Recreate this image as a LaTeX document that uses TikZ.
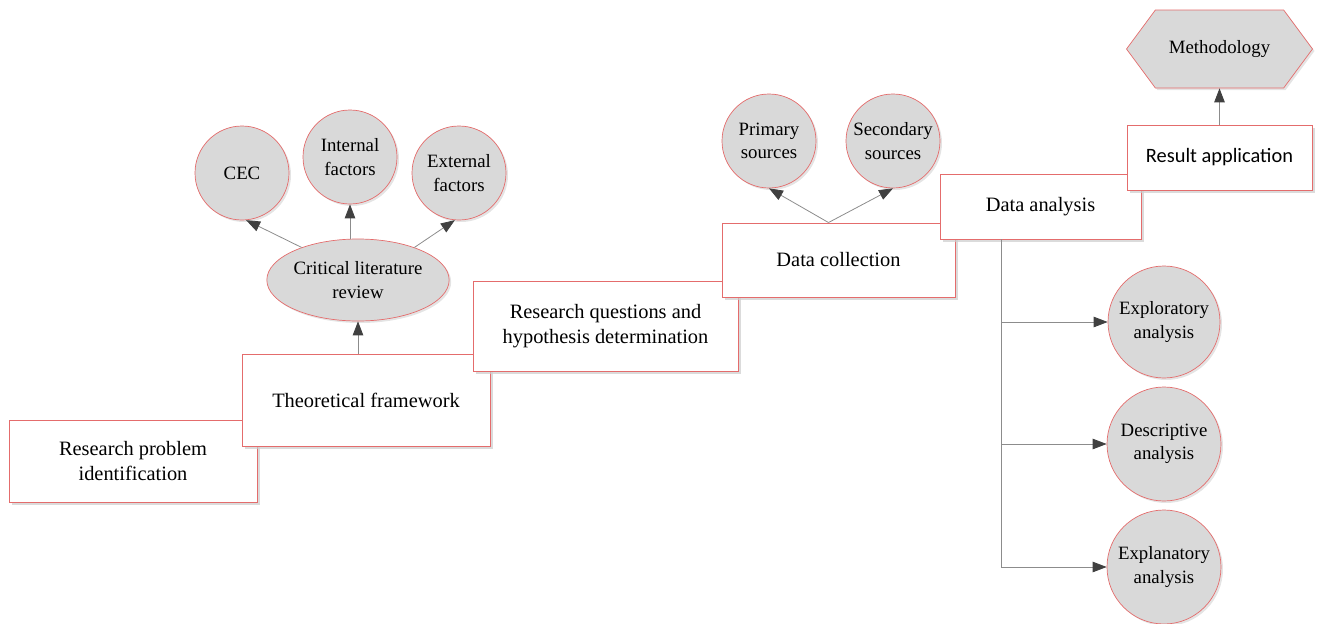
\documentclass[tikz,border=0pt]{standalone}
\usepackage{fontspec}
\setmainfont{Liberation Serif}
\newfontfamily\carlito{Carlito}
\usetikzlibrary{arrows.meta,shapes.geometric,shapes.symbols,shadows}

\definecolor{edgered}{RGB}{228,108,108}
\definecolor{bubblegray}{RGB}{217,217,217}

\begin{document}
\begin{tikzpicture}[x=1pt,y=-1pt]
		% Define styles for boxes, bubbles and arrows
		\tikzset{
			box/.style={draw=edgered, line width=0.9pt, fill=white, inner sep=0pt, align=center,
				font=\fontsize{20.4}{25}\selectfont,
				drop shadow={shadow xshift=2.5pt, shadow yshift=-2.5pt, fill=black!20, opacity=0.7}},
			bubble/.style={circle, draw=edgered, line width=0.7pt, fill=bubblegray, inner sep=0pt, align=center,
				font=\fontsize{18.8}{23.5}\selectfont,
				drop shadow={shadow xshift=2pt, shadow yshift=-2pt, fill=black!15, opacity=0.7}},
			link/.style={draw=black!45, line width=0.8pt, -{Triangle[length=14pt,width=10.5pt,color=black!75]}}
		}
		\useasboundingbox (0,0) rectangle (1318,624);
		
		% Draw the step boxes, each one above the last
		\node[box, minimum width=248pt, minimum height=82pt] (rp) at (133,461) {Research problem\\identification};
		\node[box, minimum width=248pt, minimum height=92pt] (tf) at (366,400) {Theoretical framework};
		\node[box, minimum width=265pt, minimum height=90pt] (rq) at (605.5,326) {Research questions and\\hypothesis determination};
		\node[box, minimum width=233pt, minimum height=74pt] (dc) at (838.5,260) {Data collection};
		\node[box, minimum width=201pt, minimum height=65pt] (da) at (1040.5,206.5) {Data analysis};
		\node[box, minimum width=185pt, minimum height=65pt, font=\carlito\fontsize{20.4}{25}\selectfont] (ra) at (1219.5,157.5) {Result application};
		
		% Draw the methodology hexagon
		\node[bubble, signal, signal to=west and east, signal pointer angle=107,
			minimum width=186pt, minimum height=78pt] (meth) at (1219.5,49) {Methodology};
		
		% Draw the literature review and its factors
		\node[bubble, ellipse, minimum width=170pt, minimum height=82pt] (clr) at (358,280) {Critical literature\\review};
		\node[bubble, minimum size=94pt] (cec) at (242,173) {CEC};
		\node[bubble, minimum size=94pt] (intf) at (350,157) {Internal\\factors};
		\node[bubble, minimum size=94pt] (extf) at (459,173) {External\\factors};
		
		% Draw the data sources
		\node[bubble, minimum size=94pt] (prim) at (769,141) {Primary\\sources};
		\node[bubble, minimum size=94pt] (sec) at (893,141) {Secondary\\sources};
		
		% Draw the kinds of analysis
		\node[bubble, minimum size=112pt] (exploratory) at (1164,322) {Exploratory\\analysis};
		\node[bubble, minimum size=114pt] (descriptive) at (1164,444) {Descriptive\\analysis};
		\node[bubble, minimum size=114pt] (explanatory) at (1164,567) {Explanatory\\analysis};
		
		% Draw the arrows
		\draw[link] (clr.south |- tf.north) -- (clr.south);
		\draw[link] (clr.150) -- (cec.275);
		\draw[link] (intf.south |- clr.north) -- (intf.south);
		\draw[link] (clr.30) -- (extf.265);
		
		\coordinate (dcfork) at ([xshift=-10pt]dc.north);
		\draw[link] (dcfork) -- (prim.south);
		\draw[link] (dcfork) -- (sec.south);
		
		\draw[link] (ra.north) -- (meth.south);
		
		\coordinate (fork) at ([xshift=62pt]da.south west);
		\draw[link] (fork) |- (exploratory.west);
		\draw[link] (fork) |- (descriptive.west);
		\draw[link] (fork) |- (explanatory.west);
	\end{tikzpicture}
\end{document}
